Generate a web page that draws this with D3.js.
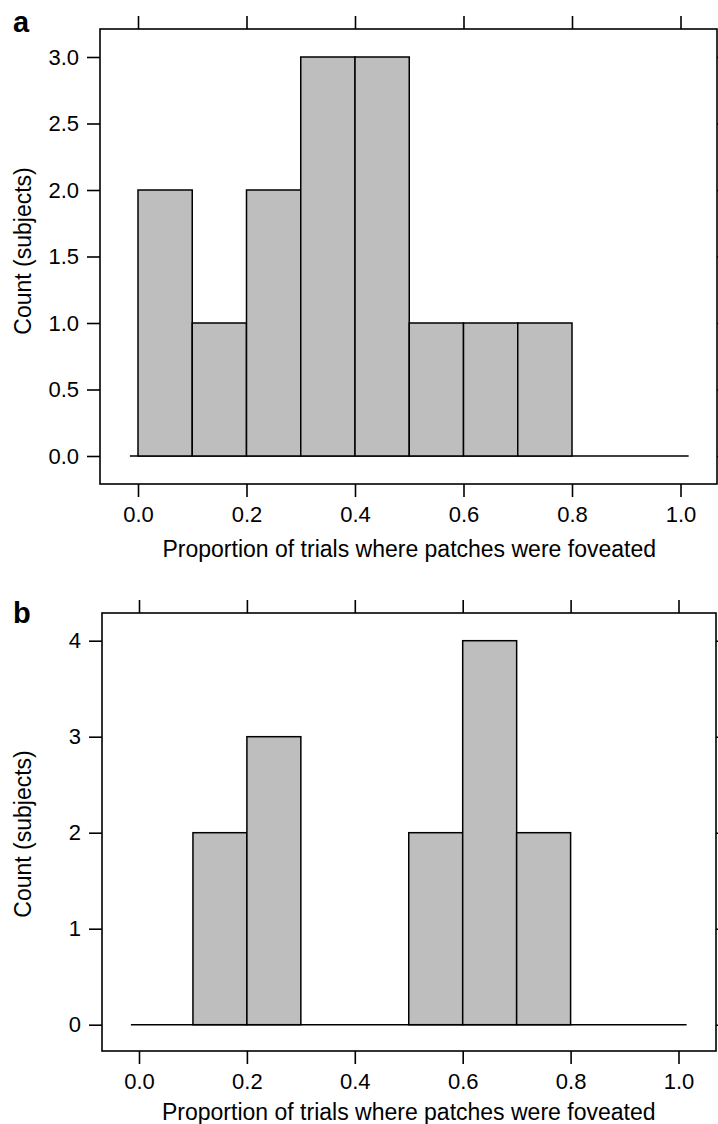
<!DOCTYPE html>
<html>
<head>
<meta charset="utf-8">
<script src="https://cdn.jsdelivr.net/npm/d3@7"></script>
<style>
  body { margin: 0; background: #fff; }
  svg { display: block; font-family: "Liberation Sans", Arial, sans-serif; }
</style>
</head>
<body>
<div id="chart"></div>
<script>
// histogram bins (left edges) and counts per panel
var binStarts = [0.0, 0.1, 0.2, 0.3, 0.4, 0.5, 0.6, 0.7, 0.8, 0.9];
var binWidth = 0.1;
var countsA = [2, 1, 2, 3, 3, 1, 1, 1, 0, 0];
var countsB = [0, 2, 3, 0, 0, 2, 4, 2, 0, 0];
var xTicks = [0.0, 0.2, 0.4, 0.6, 0.8, 1.0];
var yTicksA = [0.0, 0.5, 1.0, 1.5, 2.0, 2.5, 3.0];
var yTicksB = [0, 1, 2, 3, 4];
var xTitle = 'Proportion of trials where patches were foveated';
var yTitle = 'Count (subjects)';

var W = 718, H = 1124;
var svg = d3.select('#chart').append('svg')
    .attr('width', W)
    .attr('height', H);

function panel(opt){
    var g = svg.append('g');
    var box = opt.box;
    var x = d3.scaleLinear().domain([0, 1]).range(opt.xRange);
    var y = d3.scaleLinear().domain([0, opt.yMax]).range(opt.yRange);

    // frame
    g.append('rect')
	.attr('x', box.left).attr('y', box.top)
	.attr('width', box.right - box.left).attr('height', box.bottom - box.top)
	.attr('fill', 'none').attr('stroke', '#000').attr('stroke-width', 1.6);

    // axes, ticks outward only
    var left = d3.axisLeft(y).tickValues(opt.yTicks).tickSize(13).tickPadding(8).tickFormat(opt.fmt);
    var right = d3.axisRight(y).tickValues(opt.yTicks).tickSize(13).tickFormat('');
    var bottom = d3.axisBottom(x).tickValues(xTicks).tickSize(13).tickPadding(9).tickFormat(d3.format('.1f'));
    var top = d3.axisTop(x).tickValues(xTicks).tickSize(13).tickFormat('');

    [[left, 'translate(' + box.left + ',0)'],
     [right, 'translate(' + box.right + ',0)'],
     [bottom, 'translate(0,' + box.bottom + ')'],
     [top, 'translate(0,' + box.top + ')']].forEach(function(a){
	var ax = g.append('g').attr('transform', a[1]).call(a[0]);
	ax.select('.domain').remove();
	ax.selectAll('line').attr('stroke', '#000').attr('stroke-width', 1.6);
	ax.selectAll('text').attr('fill', '#000').attr('font-size', 22)
	    .attr('font-family', '"Liberation Sans", Arial, sans-serif');
    });

    // baseline
    g.append('line')
	.attr('x1', x(-0.015)).attr('x2', x(1.015))
	.attr('y1', y(0)).attr('y2', y(0))
	.attr('stroke', '#000').attr('stroke-width', 1.6);

    // bars
    var data = binStarts.map(function(b, i){ return {x0: b, x1: b + binWidth, n: opt.counts[i]}; })
	.filter(function(d){ return d.n > 0; });
    g.selectAll('rect.bar').data(data).enter().append('rect')
	.attr('class', 'bar')
	.attr('x', function(d){ return x(d.x0); })
	.attr('width', function(d){ return x(d.x1) - x(d.x0); })
	.attr('y', function(d){ return y(d.n); })
	.attr('height', function(d){ return y(0) - y(d.n); })
	.attr('fill', '#bebebe').attr('stroke', '#000').attr('stroke-width', 1.5);

    // titles
    g.append('text')
	.attr('x', (opt.xRange[0] + opt.xRange[1]) / 2).attr('y', opt.xTitleY)
	.attr('text-anchor', 'middle').attr('font-size', 23).text(xTitle);
    g.append('text')
	.attr('transform', 'translate(31,' + opt.yTitleY + ') rotate(-90)')
	.attr('text-anchor', 'middle').attr('font-size', 23).text(yTitle);
    g.append('text')
	.attr('x', 13).attr('y', opt.labelY)
	.attr('font-size', 29).attr('font-weight', 'bold').text(opt.label);
}

panel({
    label: 'a', labelY: 32,
    box: {left: 100, right: 717, top: 29, bottom: 484},
    xRange: [138, 680.5], yRange: [456, 57], yMax: 3,
    counts: countsA, yTicks: yTicksA, fmt: d3.format('.1f'),
    xTitleY: 557, yTitleY: 251
});

panel({
    label: 'b', labelY: 623,
    box: {left: 102, right: 716, top: 613, bottom: 1051},
    xRange: [139, 678.5], yRange: [1024.7, 640.7], yMax: 4,
    counts: countsB, yTicks: yTicksB, fmt: d3.format('d'),
    xTitleY: 1120, yTitleY: 834
});
</script>
</body>
</html>
